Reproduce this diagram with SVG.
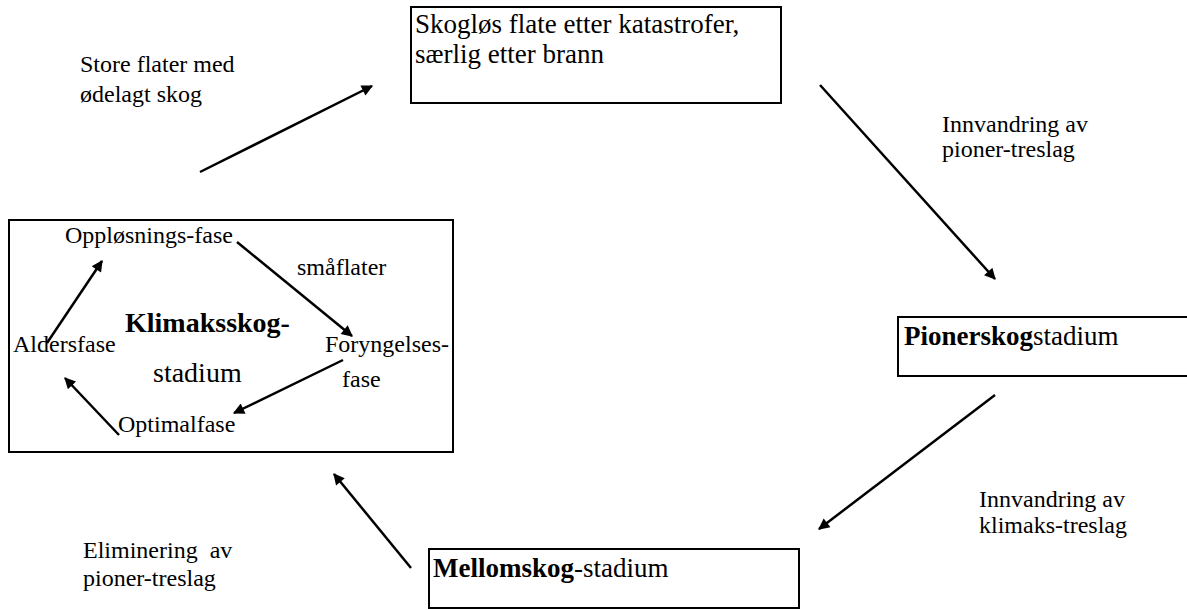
<svg xmlns="http://www.w3.org/2000/svg" width="1187" height="610" viewBox="0 0 1187 610" font-family="'Liberation Serif', 'Times New Roman', 'DejaVu Serif', serif">
<style>
text{font-family:'Liberation Serif','Times New Roman','DejaVu Serif',serif;fill:#000}
.box{fill:#fff;stroke:#000;stroke-width:2}
.bt{font-size:27px}
.lb{font-size:24px}
.in{font-size:24px}
.big{font-size:28px}
.b{font-weight:bold}
.c{stroke:#000;stroke-width:2.5;fill:none;marker-end:url(#ah)}
</style>
<defs>
<marker id="ah" viewBox="0 0 10 10" refX="9" refY="5" markerWidth="5.5" markerHeight="4.5" orient="auto" markerUnits="strokeWidth">
<path d="M0,0 L10,5 L0,10 Z" fill="#000"/>
</marker>
</defs>
<rect width="1187" height="610" fill="#fff"/>
<g id="node-skoglos">
<rect class="box" x="411" y="7" width="370" height="96"/>
<text class="bt" x="415" y="33">Skogløs flate etter katastrofer,</text>
<text class="bt" x="415" y="63">særlig etter brann</text>
</g>
<g id="node-pionerskog">
<rect class="box" x="898" y="317" width="300" height="59"/>
<text class="bt" x="904" y="345"><tspan class="b">Pionerskog</tspan>stadium</text>
</g>
<g id="node-mellomskog">
<rect class="box" x="429" y="549" width="370" height="59"/>
<text class="bt" x="433" y="577"><tspan class="b">Mellomskog</tspan>-stadium</text>
</g>
<g id="node-klimaks">
<rect class="box" x="9" y="220" width="444" height="232"/>
<text class="big b" x="125" y="332">Klimaksskog-</text>
<text class="big" x="153" y="382">stadium</text>
<text class="in" x="65" y="243">Oppløsnings-fase</text>
<text class="in" x="297" y="275">småflater</text>
<text class="in" x="13" y="352" font-size="23">Aldersfase</text>
<text class="in" x="325" y="352" font-size="22.5">Foryngelses-</text>
<text class="in" x="342" y="387">fase</text>
<text class="in" x="118" y="432" font-size="25">Optimalfase</text>
</g>
<g id="labels">
<text class="lb" x="80" y="72">Store flater med</text>
<text class="lb" x="80" y="102">ødelagt skog</text>
<text class="lb" x="942" y="132">Innvandring av</text>
<text class="lb" x="942" y="157">pioner-treslag</text>
<text class="lb" x="979" y="507">Innvandring av</text>
<text class="lb" x="979" y="533">klimaks-treslag</text>
<text class="lb" x="83" y="558" xml:space="preserve">Eliminering  av</text>
<text class="lb" x="83" y="586">pioner-treslag</text>
</g>
<g id="connectors">
<line class="c" x1="200" y1="172" x2="372" y2="86"/>
<line class="c" x1="820" y1="85" x2="995" y2="279"/>
<line class="c" x1="995" y1="395" x2="819" y2="529"/>
<line class="c" x1="411" y1="568" x2="334" y2="474"/>
<line class="c" x1="47" y1="343" x2="102" y2="261"/>
<line class="c" x1="237" y1="242" x2="352" y2="336"/>
<line class="c" x1="343" y1="360" x2="234" y2="413"/>
<line class="c" x1="119" y1="435" x2="65" y2="378"/>
</g>
</svg>
